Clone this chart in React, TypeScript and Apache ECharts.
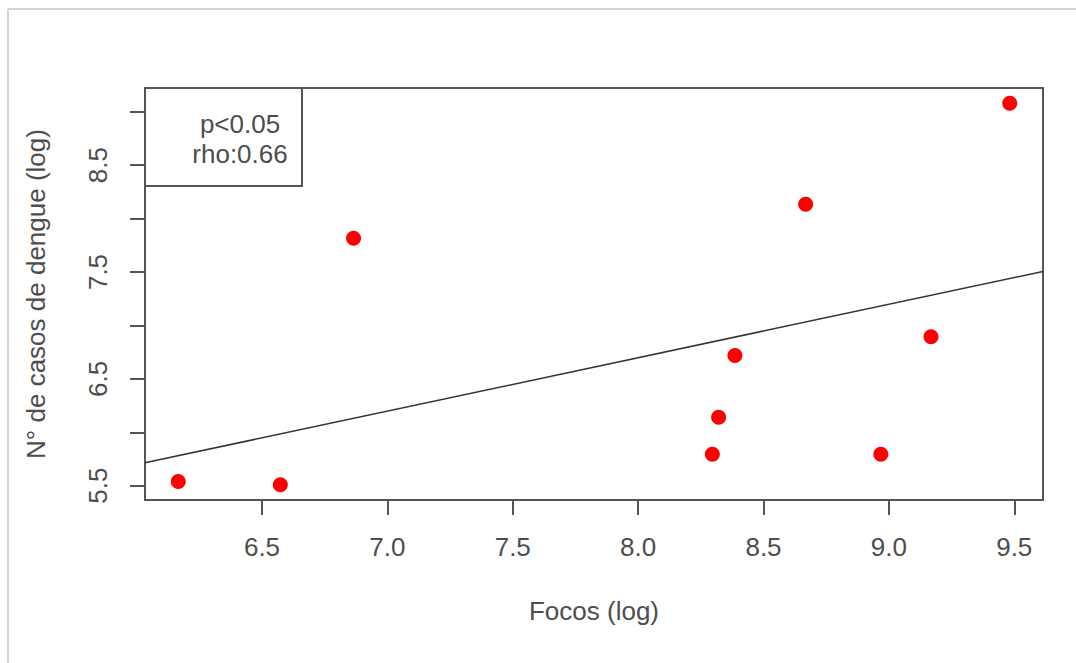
import React, { useEffect, useRef } from "react";
import * as echarts from "echarts";

// Data (log scales)
const focosLog: number[] = [6.166, 6.573, 6.865, 8.296, 8.321, 8.386, 8.668, 8.968, 9.168, 9.482];
const casosLog: number[] = [5.540, 5.509, 7.816, 5.794, 6.141, 6.719, 8.135, 5.794, 6.894, 9.079];

// Fitted line (y = intercept + slope * x)
const fitIntercept = 2.698;
const fitSlope = 0.5;

const xTicks: number[] = [6.5, 7.0, 7.5, 8.0, 8.5, 9.0, 9.5];
const yTicks: number[] = [5.5, 6.0, 6.5, 7.0, 7.5, 8.0, 8.5, 9.0];
const yLabels: number[] = [5.5, 6.5, 7.5, 8.5];

const legendLines: string[] = ["p<0.05", "rho:0.66"];

const xTitle = "Focos (log)";
const yTitle = "N° de casos de dengue (log)";

function extendRange(vals: number[]): [number, number] {
  const lo = Math.min(...vals);
  const hi = Math.max(...vals);
  const r = hi - lo;
  return [lo - 0.04 * r, hi + 0.04 * r];
}

export default function App() {
  const ref = useRef<HTMLDivElement>(null);

  useEffect(() => {
    if (!ref.current) return;
    const chart = echarts.init(ref.current, undefined, { renderer: "svg" });
    const [xMin, xMax] = extendRange(focosLog);
    const [yMin, yMax] = extendRange(casosLog);
    const textColor = "#4d4d4d";
    const lineColor = "#555555";
    const font = "'Liberation Sans', Arial, Helvetica, sans-serif";

    const points = focosLog.map((x, i) => [x, casosLog[i]]);
    const fit = [
      [xMin, fitIntercept + fitSlope * xMin],
      [xMax, fitIntercept + fitSlope * xMax],
    ];

    chart.setOption({
      animation: false,
      backgroundColor: "#ffffff",
      textStyle: { fontFamily: font },
      grid: {
        left: 145,
        top: 88,
        width: 898,
        height: 412,
        show: true,
        borderColor: lineColor,
        borderWidth: 2,
        backgroundColor: "transparent",
      },
      xAxis: {
        type: "value",
        min: xMin,
        max: xMax,
        splitLine: { show: false },
        axisLine: { show: false },
        axisTick: {
          show: true,
          inside: false,
          length: 15,
          customValues: xTicks,
          lineStyle: { color: lineColor, width: 2 },
        },
        axisLabel: {
          customValues: xTicks,
          formatter: (v: number) => v.toFixed(1),
          color: textColor,
          fontSize: 26,
          fontFamily: font,
          margin: 34,
        },
        name: xTitle,
        nameLocation: "middle",
        nameGap: 98,
        nameTextStyle: { color: textColor, fontSize: 26, fontFamily: font },
      },
      yAxis: {
        type: "value",
        min: yMin,
        max: yMax,
        splitLine: { show: false },
        axisLine: { show: false },
        axisTick: {
          show: true,
          inside: false,
          length: 15,
          customValues: yTicks,
          lineStyle: { color: lineColor, width: 2 },
        },
        axisLabel: {
          customValues: yLabels,
          formatter: (v: number) => v.toFixed(1),
          color: textColor,
          fontSize: 26,
          fontFamily: font,
          rotate: 90,
          margin: 34,
        },
        name: yTitle,
        nameLocation: "middle",
        nameGap: 96,
        nameTextStyle: { color: textColor, fontSize: 26, fontFamily: font },
      },
      series: [
        {
          type: "line",
          data: fit,
          showSymbol: false,
          symbol: "none",
          lineStyle: { color: "#333333", width: 1.5 },
          z: 2,
          silent: true,
        },
        {
          type: "scatter",
          data: points,
          symbol: "circle",
          symbolSize: 15,
          itemStyle: { color: "#ff0000", opacity: 1 },
          z: 3,
        },
      ],
      graphic: [
        {
          type: "line",
          shape: { x1: 8, y1: 9, x2: 1076, y2: 9 },
          style: { stroke: "#d4d4d4", lineWidth: 2 },
        },
        {
          type: "line",
          shape: { x1: 8, y1: 9, x2: 8, y2: 663 },
          style: { stroke: "#d4d4d4", lineWidth: 2 },
        },
        {
          type: "rect",
          shape: { x: 145, y: 88, width: 157, height: 98 },
          style: { fill: "transparent", stroke: lineColor, lineWidth: 2 },
          z: 10,
        },
        {
          type: "text",
          x: 240,
          y: 124,
          style: {
            text: legendLines[0],
            fill: textColor,
            font: `26px ${font}`,
            align: "center",
            verticalAlign: "middle",
          },
          z: 10,
        },
        {
          type: "text",
          x: 240,
          y: 154,
          style: {
            text: legendLines[1],
            fill: textColor,
            font: `26px ${font}`,
            align: "center",
            verticalAlign: "middle",
          },
          z: 10,
        },
      ],
    });

    return () => chart.dispose();
  }, []);

  return (
    <div
      ref={ref}
      style={{ position: "fixed", left: 0, top: 0, width: 1076, height: 663 }}
    />
  );
}
